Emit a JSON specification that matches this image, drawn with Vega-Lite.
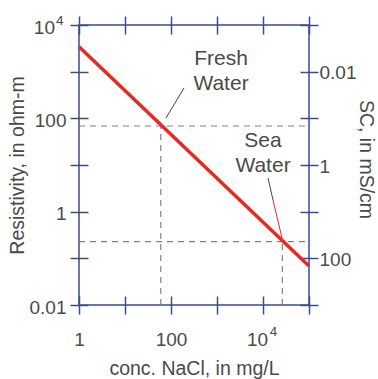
{
  "$schema": "https://vega.github.io/schema/vega-lite/v6.json",
  "width": 230,
  "height": 280,
  "autosize": "none",
  "padding": {"left": 79, "top": 25, "right": 69, "bottom": 74},
  "background": "white",
  "view": {"stroke": "#3b4b8c", "strokeWidth": 1.5},
  "config": {
    "font": "Liberation Sans",
    "axis": {
      "domain": false,
      "grid": false,
      "tickColor": "#3b4b8c",
      "tickWidth": 1.5,
      "tickSize": 18,
      "offset": -9,
      "labelFont": "Liberation Sans",
      "labelFontSize": 19,
      "labelColor": "#4a4a4a",
      "labelOverlap": false,
      "labelBound": false,
      "labelFlush": false,
      "titleFont": "Liberation Sans",
      "titleFontSize": 19.5,
      "titleFontWeight": "normal",
      "titleColor": "#4a4a4a"
    }
  },
  "datasets": {
    "line": [{"conc": 1, "res": 3430}, {"conc": 100000, "res": 0.0686}],
    "guides": [
      {"c1": 1, "c2": 100000, "r1": 68.5, "r2": 68.5},
      {"c1": 60, "c2": 60, "r1": 0.01, "r2": 68.5},
      {"c1": 1, "c2": 100000, "r1": 0.228, "r2": 0.228},
      {"c1": 26300, "c2": 26300, "r1": 0.01, "r2": 0.228}
    ],
    "darkLeaders": [
      {"c1": 192, "r1": 447, "c2": 77.9, "r2": 101.6},
      {"c1": 12850, "r1": 5.27, "c2": 16490, "r2": 1.78}
    ],
    "redLeaders": [
      {"c1": 16490, "r1": 1.78, "c2": 25880, "r2": 0.273}
    ],
    "notes": [
      {"c": 1222, "r": 1914, "label": "Fresh\nWater"},
      {"c": 10000, "r": 31.9, "label": "Sea\nWater"}
    ]
  },
  "layer": [
    {
      "data": {"name": "guides"},
      "mark": {"type": "rule", "color": "#808080", "strokeWidth": 1.2, "strokeDash": [6, 5]},
      "encoding": {
        "x": {"field": "c1", "type": "quantitative",
          "scale": {"type": "log", "domain": [1, 100000], "nice": false},
          "axis": {"orient": "top", "values": [1, 10, 100, 1000, 10000, 100000], "labels": false, "title": null}},
        "x2": {"field": "c2"},
        "y": {"field": "r1", "type": "quantitative",
          "scale": {"type": "log", "domain": [0.01, 10000], "nice": false},
          "axis": {"orient": "right", "values": [0.01, 0.1, 1, 10, 100, 1000, 10000],
            "labelExpr": "datum.value == 1000 ? '0.01' : datum.value == 10 ? '1' : datum.value == 0.1 ? '100' : ''",
            "labelPadding": 1, "labelOffset": 1, "title": "SC, in mS/cm", "titlePadding": 0, "titleY": 134}},
        "y2": {"field": "r2"}
      }
    },
    {
      "data": {"name": "darkLeaders"},
      "mark": {"type": "rule", "color": "#444444", "strokeWidth": 1},
      "encoding": {
        "x": {"field": "c1", "type": "quantitative", "scale": {"type": "log", "domain": [1, 100000], "nice": false},
          "axis": {"orient": "bottom", "values": [10000], "labelExpr": "'4'", "labelFontSize": 13.5,
            "labelPadding": 10, "labelOffset": 10, "tickOpacity": 0, "title": null}},
        "x2": {"field": "c2"},
        "y": {"field": "r1", "type": "quantitative", "scale": {"type": "log", "domain": [0.01, 10000], "nice": false},
          "axis": {"orient": "left", "values": [10000], "labelExpr": "'4'", "labelFontSize": 13.5,
            "labelPadding": 7, "labelOffset": -5, "tickOpacity": 0, "title": null}},
        "y2": {"field": "r2"}
      }
    },
    {
      "data": {"name": "redLeaders"},
      "mark": {"type": "rule", "color": "#e62a22", "strokeWidth": 1},
      "encoding": {
        "x": {"field": "c1", "type": "quantitative", "scale": {"type": "log", "domain": [1, 100000], "nice": false}, "axis": null},
        "x2": {"field": "c2"},
        "y": {"field": "r1", "type": "quantitative", "scale": {"type": "log", "domain": [0.01, 10000], "nice": false}, "axis": null},
        "y2": {"field": "r2"}
      }
    },
    {
      "data": {"name": "line"},
      "mark": {"type": "line", "color": "#e62a22", "strokeWidth": 3.5},
      "encoding": {
        "x": {"field": "conc", "type": "quantitative",
          "scale": {"type": "log", "domain": [1, 100000], "nice": false},
          "axis": {"orient": "bottom", "values": [1, 10, 100, 1000, 10000, 100000],
            "labelExpr": "datum.value == 1 ? '1' : datum.value == 100 ? '100' : datum.value == 10000 ? '10' : ''",
            "labelOffset": {"condition": {"test": "datum.value == 10000", "value": -6}, "value": 0},
            "labelPadding": 16, "title": "conc. NaCl, in mg/L", "titlePadding": 10}},
        "y": {"field": "res", "type": "quantitative",
          "scale": {"type": "log", "domain": [0.01, 10000], "nice": false},
          "axis": {"orient": "left", "values": [0.01, 0.1, 1, 10, 100, 1000, 10000],
            "labelExpr": "datum.value == 10000 ? '10' : datum.value == 100 ? '100' : datum.value == 1 ? '1' : datum.value == 0.01 ? '0.01' : ''",
            "labelPadding": {"condition": {"test": "datum.value == 10000", "value": 15.5}, "value": 4},
            "labelOffset": 2,
            "title": "Resistivity, in ohm-m", "titlePadding": 2}}
      }
    },
    {
      "data": {"name": "notes"},
      "mark": {"type": "text", "lineBreak": "\n", "fontSize": 21, "lineHeight": 25, "color": "#4a4a4a", "align": "center", "baseline": "middle", "font": "Liberation Sans"},
      "encoding": {
        "x": {"field": "c", "type": "quantitative", "scale": {"type": "log", "domain": [1, 100000], "nice": false}, "axis": null},
        "y": {"field": "r", "type": "quantitative", "scale": {"type": "log", "domain": [0.01, 10000], "nice": false}, "axis": null},
        "text": {"field": "label"}
      }
    }
  ],
  "resolve": {"axis": {"x": "independent", "y": "independent"}}
}
